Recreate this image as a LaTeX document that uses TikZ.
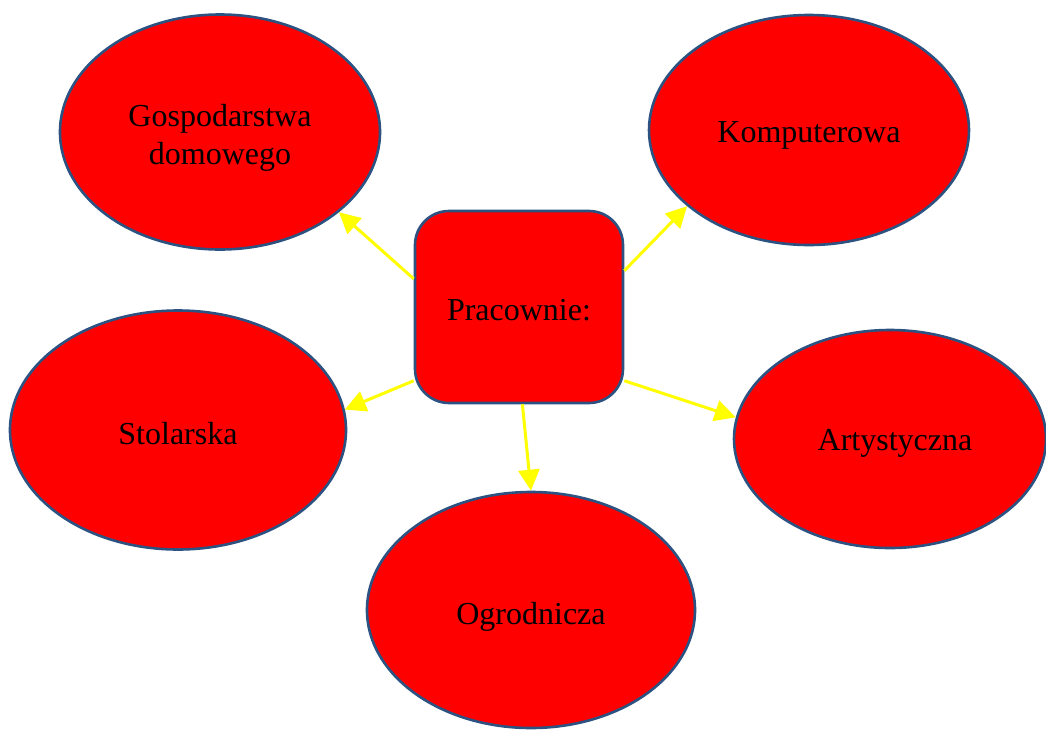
\documentclass[tikz,border=0pt]{standalone}
\usepackage{fontspec}
\setmainfont{Liberation Serif}
\usetikzlibrary{shapes.geometric,arrows.meta}
\definecolor{edgeblue}{RGB}{44,82,130}
\definecolor{ylw}{RGB}{255,255,0}
\newcommand{\dn}[2][5pt]{\raisebox{-#1}[\height][\depth]{#2}}
\tikzset{
  bubble/.style={ellipse, draw=edgeblue, line width=2.6pt, fill=red, inner sep=0pt,
    align=center, font=\fontsize{32}{38}\selectfont},
  hub/.style={rectangle, rounded corners=34pt, draw=edgeblue, line width=2.6pt, fill=red,
    minimum width=208pt, minimum height=192pt, inner sep=0pt, font=\fontsize{32}{38}\selectfont},
  link/.style={draw=ylw, line width=3pt, -{Triangle[length=21pt,width=21pt]}}
}
\begin{document}
\begin{tikzpicture}[x=1pt,y=-1pt]
\useasboundingbox (0,0) rectangle (1046,729);
\node[bubble, minimum width=320pt, minimum height=235pt] (g) at (220,132) {\dn[6pt]{\begin{tabular}{@{}c@{}}Gospodarstwa\\domowego\end{tabular}}};
\node[bubble, minimum width=320pt, minimum height=230pt] (k) at (809,130) {\dn{Komputerowa}};
\node[bubble, minimum width=336pt, minimum height=239pt] (s) at (178,430) {\dn[4pt]{Stolarska}};
\node[bubble, minimum width=312pt, minimum height=218pt] (a) at (890,439) {\dn[4pt]{\hspace*{10pt}Artystyczna}};
\node[bubble, minimum width=328pt, minimum height=236pt] (o) at (531,610) {\dn[7pt]{Ogrodnicza}};
\node[hub] (c) at (519,307) {\dn[3pt]{Pracownie:}};
\draw[link] (c.165.4) -- (g.-34.5);
\draw[link] (c.19.6) -- (k.212.8);
\draw[link] (c.215) -- (s.7.6);
\draw[link] (c.-35.8) -- (a.172);
\draw[link] (c.-88.9) -- (o.90);
\end{tikzpicture}
\end{document}
